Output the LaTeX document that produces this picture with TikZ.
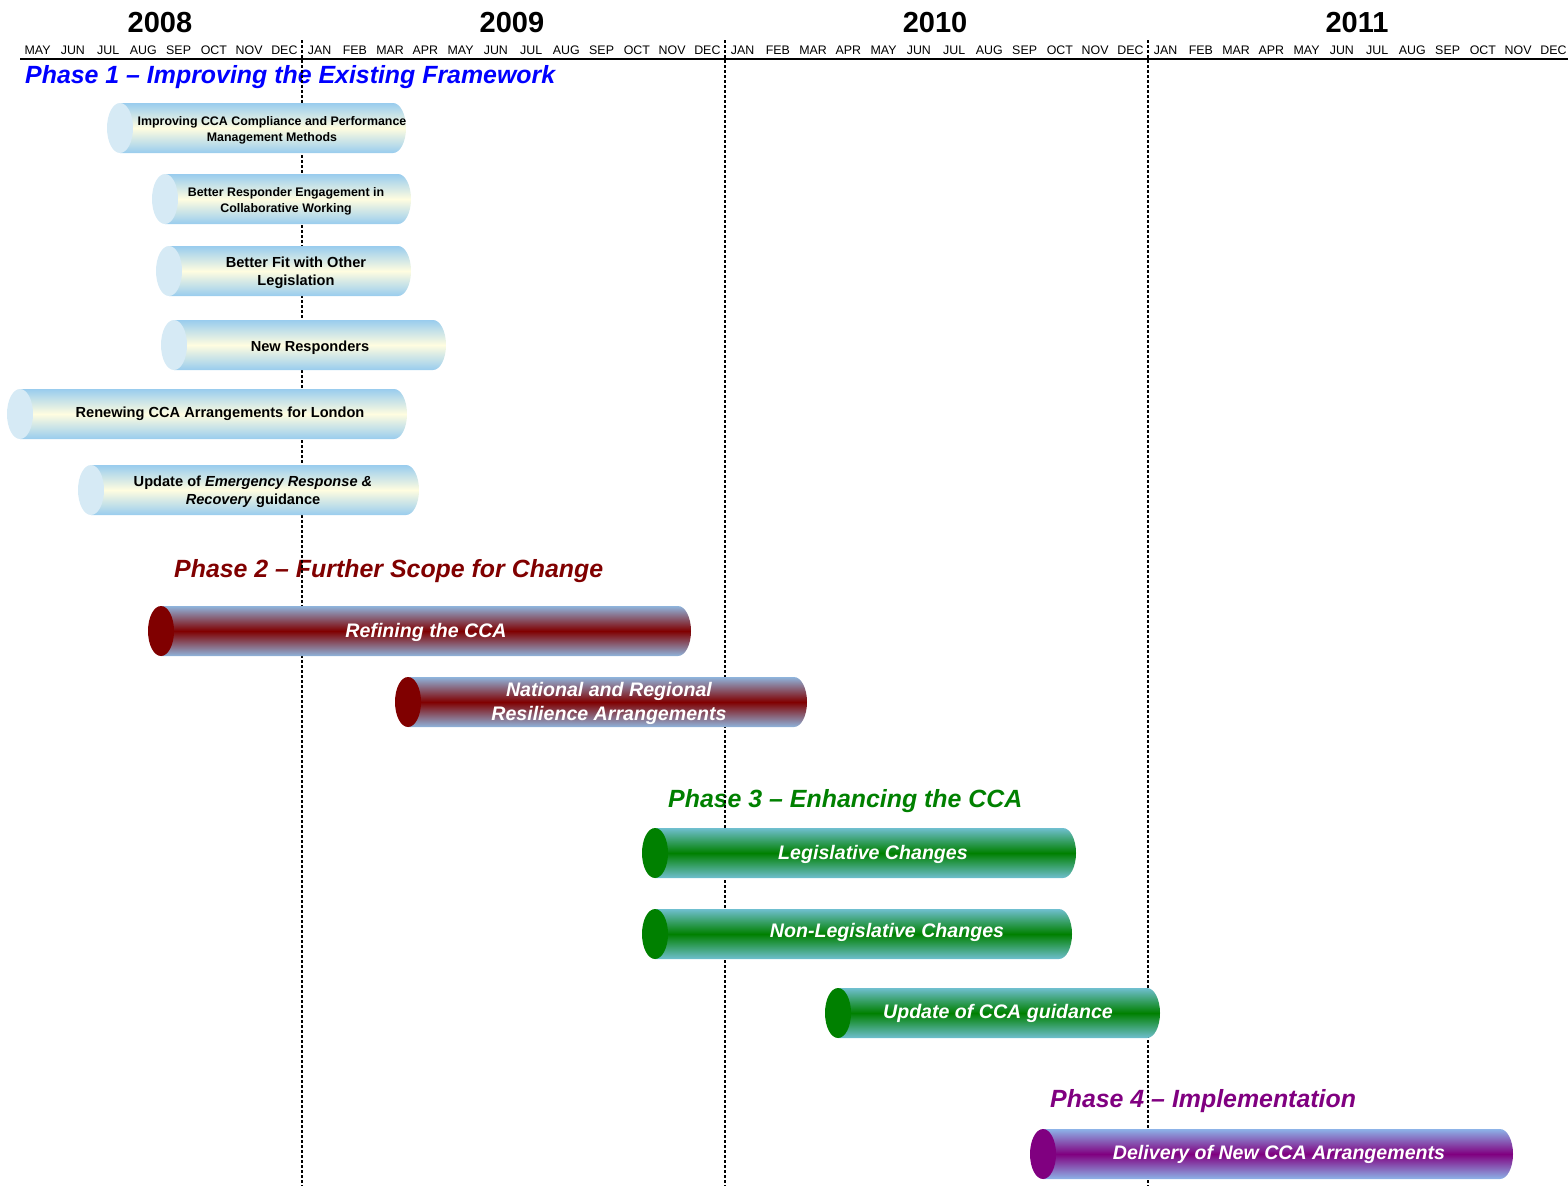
\documentclass[tikz,border=0pt]{standalone}
\usepackage{amssymb}
\usepackage{amsmath}
\usepackage{xcolor}
\usepackage{fontspec}
\setmainfont{Liberation Sans}
\usepackage{tikz}

\definecolor{capone}{HTML}{D6EAF5}
\definecolor{edgeone}{HTML}{99CCEE}
\definecolor{midone}{HTML}{FFFDE0}
\definecolor{edgetwo}{HTML}{8FB4DC}
\definecolor{edgethree}{HTML}{6FBFCF}
\definecolor{edgefour}{HTML}{8DB3E8}
\definecolor{phaseone}{HTML}{0000FF}
\definecolor{phasetwo}{HTML}{800000}
\definecolor{phasethree}{HTML}{008000}
\definecolor{phasefour}{HTML}{800080}

% #1 phase, #2 left end, #3 right end, #4 middle height
\newcommand{\cylbar}[4]{%
  \path[#1 body] (#2+13,#4-25) -- (#3-13,#4-25)
    arc[start angle=90, end angle=-90, x radius=13pt, y radius=25pt]
    -- (#2+13,#4+25) -- cycle;
  \fill[#1 cap] (#2+13,#4) ellipse[x radius=13pt, y radius=25pt];
}

\begin{document}
\begin{tikzpicture}[x=1pt, y=-1pt,
    month/.style={inner sep=0, yshift=-1pt, font=\fontsize{12.4}{14}\selectfont},
    year/.style={inner sep=0, yshift=-1pt, font=\fontsize{29}{34}\selectfont\bfseries},
    phase/.style={anchor=west, inner sep=0, yshift=-2pt, font=\fontsize{24.9}{29}\selectfont\bfseries\itshape},
    yearline/.style={line width=1.3pt, dash pattern=on 3pt off 2pt},
    p1 body/.style={top color=edgeone, bottom color=edgeone, middle color=midone},
    p1 cap/.style={fill=capone},
    p1 text/.style={align=center, inner sep=0, yshift=-1.5pt, font=\fontsize{12.4}{16}\selectfont\bfseries},
    p1 big/.style={p1 text, font=\fontsize{14.6}{18}\selectfont\bfseries},
    p2 body/.style={top color=edgetwo, bottom color=edgetwo, middle color=phasetwo},
    p2 cap/.style={fill=phasetwo},
    p3 body/.style={top color=edgethree, bottom color=edgethree, middle color=phasethree},
    p3 cap/.style={fill=phasethree},
    p4 body/.style={top color=edgefour, bottom color=edgefour, middle color=phasefour},
    p4 cap/.style={fill=phasefour},
    dark text/.style={align=center, inner sep=0, yshift=-2pt, text=white, font=\fontsize{19.6}{24}\selectfont\bfseries\itshape}]
    \useasboundingbox (0,0) rectangle (1568,1186);

    % time axis
    \node[year] (y2008) at (160,22) {2008};
    \node[year] (y2009) at (512,22) {2009};
    \node[year] (y2010) at (935,22) {2010};
    \node[year] (y2011) at (1357,22) {2011};
    \foreach \m [count=\i] in {MAY,JUN,JUL,AUG,SEP,OCT,NOV,DEC}
        \node[month] (m2008-\i) at ({302-(8.5-\i)*35.25},49) {\m};
    \foreach \yr/\x in {2009/302,2010/725,2011/1148}
        \foreach \m [count=\i] in {JAN,FEB,MAR,APR,MAY,JUN,JUL,AUG,SEP,OCT,NOV,DEC}
            \node[month] (m\yr-\i) at ({\x+(\i-0.5)*35.25},49) {\m};
    \draw[line width=1.8pt] (20,59) -- (1568,59);

    % phase titles
    \node[phase, text=phaseone] (ph1) at (25,75) {Phase 1 -- Improving the Existing Framework};
    \node[phase, text=phasetwo] (ph2) at (174,569) {Phase 2 -- Further Scope for Change};
    \node[phase, text=phasethree] (ph3) at (668,799) {Phase 3 -- Enhancing the CCA};
    \node[phase, text=phasefour] (ph4) at (1050,1099) {Phase 4 -- Implementation};

    % year boundaries
    \foreach \x in {302,725,1148}
        \draw[yearline] (\x,40) -- (\x,1186);

    % phase 1
    \cylbar{p1}{107}{406}{128}
    \node[p1 text] (compliance) at (272,129) {Improving CCA Compliance and Performance\\Management Methods};
    \cylbar{p1}{152}{411}{199}
    \node[p1 text] (engagement) at (286,200) {Better Responder Engagement in\\Collaborative Working};
    \cylbar{p1}{156}{411}{271}
    \node[p1 big] (fit) at (296,271) {Better Fit with Other\\Legislation};
    \cylbar{p1}{161}{446}{345}
    \node[p1 big] (responders) at (310,346) {New Responders};
    \cylbar{p1}{7}{407}{414}
    \node[p1 big] (london) at (220,412) {Renewing CCA Arrangements for London};
    \cylbar{p1}{78}{419}{490}
    \node[p1 big] (guidance) at (253,490) {Update of \textit{Emergency Response \&}\\\textit{Recovery} guidance};

    % phase 2
    \cylbar{p2}{148}{691}{631}
    \node[dark text] (refining) at (426,630) {Refining the CCA};
    \cylbar{p2}{395}{807}{702}
    \node[dark text] (resilience) at (609,701) {National and Regional\\Resilience Arrangements};

    % phase 3
    \cylbar{p3}{642}{1076}{853}
    \node[dark text] (legislative) at (873,852) {Legislative Changes};
    \cylbar{p3}{642}{1072}{934}
    \node[dark text] (nonlegislative) at (887,930) {Non-Legislative Changes};
    \cylbar{p3}{825}{1160}{1013}
    \node[dark text] (ccaguidance) at (998,1011) {Update of CCA guidance};

    % phase 4
    \cylbar{p4}{1030}{1513}{1154}
    \node[dark text] (delivery) at (1279,1152) {Delivery of New CCA Arrangements};
\end{tikzpicture}
\end{document}
